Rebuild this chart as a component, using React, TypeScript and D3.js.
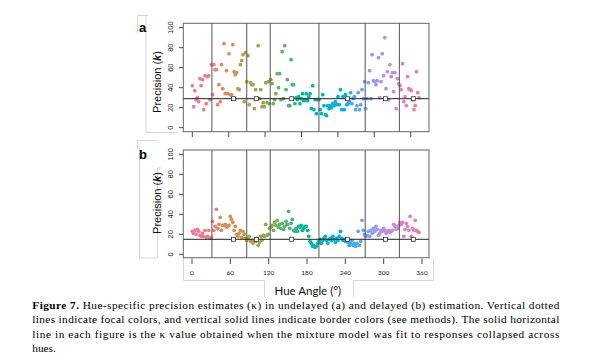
import React from 'react';
import * as d3 from 'd3';

// precision estimates per hue (2 degree steps)
const kappaA = [
  42, 21, 37, 28, 30, 26, 49, 42, 48, 18, 52, 24, 51, 52, 28, 63, 33, 63, 58, 58,
  23, 43, 26, 63, 39, 84, 34, 57, 34, 74, 33, 33, 83, 56, 53, 55, 39, 38, 63, 67,
  73, 26, 75, 46, 72, 23, 45, 43, 43, 19, 38, 29, 82, 29, 38, 21, 25, 21, 45, 25,
  46, 24, 48, 44, 24, 28, 34, 54, 40, 54, 28, 76, 29, 82, 38, 48, 22, 22, 68, 43,
  43, 24, 30, 28, 31, 24, 29, 34, 27, 28, 34, 27, 31, 34, 19, 42, 18, 28, 14, 28,
  28, 18, 14, 33, 22, 13, 12, 22, 19, 22, 20, 24, 22, 26, 23, 31, 23, 38, 18, 31,
  18, 33, 23, 24, 26, 35, 24, 29, 31, 18, 22, 35, 18, 23, 38, 29, 46, 19, 29, 45,
  57, 29, 73, 47, 46, 43, 47, 70, 30, 46, 74, 52, 90, 39, 56, 28, 63, 51, 55, 36,
  55, 19, 49, 44, 42, 38, 64, 26, 31, 22, 51, 39, 38, 37, 28, 18, 22, 56, 35, 30,
];

const kappaB = [
  23, 21, 24, 20, 25, 23, 19, 18, 21, 18, 24, 17, 18, 24, 16, 17, 33, 24, 28, 45,
  26, 30, 37, 24, 29, 29, 30, 27, 28, 29, 38, 35, 32, 24, 28, 20, 18, 21, 24, 17,
  23, 20, 16, 14, 16, 18, 13, 14, 11, 14, 13, 16, 9, 12, 18, 14, 19, 18, 30, 19,
  20, 26, 27, 29, 24, 32, 29, 34, 27, 30, 26, 31, 25, 28, 33, 30, 43, 26, 31, 35,
  24, 23, 26, 23, 28, 27, 29, 24, 26, 28, 28, 24, 18, 13, 11, 8, 9, 7, 8, 11,
  13, 15, 11, 14, 16, 18, 14, 11, 15, 16, 14, 18, 15, 12, 16, 14, 18, 23, 16, 14,
  15, 13, 14, 12, 9, 11, 14, 9, 11, 8, 11, 23, 9, 13, 34, 24, 20, 18, 19, 23,
  18, 24, 21, 26, 23, 28, 25, 19, 21, 24, 23, 26, 24, 21, 23, 24, 22, 23, 24, 30,
  28, 25, 26, 29, 32, 30, 32, 18, 25, 31, 28, 24, 38, 18, 26, 24, 34, 24, 23, 22,
];

const hueStep = 2;
const borderHues = [31, 86, 123, 200, 273, 327];
const focalHues = [65, 101, 157, 245, 305, 349];
const pooledA = 29;
const pooledB = 15;
const yTicks = [0, 20, 40, 60, 80, 100];
const xTicks = [0, 60, 120, 180, 240, 300, 360];

const captionLines = [
  'Hue-specific precision estimates (\u03BA) in undelayed (a) and delayed (b) estimation. Vertical dotted',
  'lines indicate focal colors, and vertical solid lines indicate border colors (see methods). The solid horizontal',
  'line in each figure is the \u03BA value obtained when the mixture model was fit to responses collapsed across',
  'hues.',
];

const sans = 'Liberation Sans, Arial, sans-serif';
const gill = 'Lato, sans-serif';
const serif = 'Liberation Serif, Times New Roman, serif';

const boxLeft = 183.3;
const boxRight = 429;

// point positions (hue) and axis positions differ slightly in the pasted figure
const xPts = d3.scaleLinear().domain([0, 358]).range([192.3, 419]);
const xAxisA = d3.scaleLinear().domain([0, 360]).range([192.3, 410.7]);
const xAxisB = d3.scaleLinear().domain([0, 360]).range([192, 422]);

const hueColor = (h: number) => d3.hcl(h, 47, 66).formatHex();

type PanelProps = {
  label: string;
  kappa: number[];
  pooled: number;
  top: number;
  bottom: number;
  y: d3.ScaleLinear<number, number>;
  labelY: number;
};

const Panel = ({ label, kappa, pooled, top, bottom, y, labelY }: PanelProps) => {
  return (
    <g>
      <text x={139} y={top + 8.5} fontFamily={sans} fontWeight="bold" fontSize={13}>
        {label}
      </text>
      <text
        transform={`translate(161,${labelY}) rotate(-90)`}
        textAnchor="middle"
        fontFamily={sans}
        fontSize={11}
        fill="#111"
      >
        Precision (<tspan fontStyle="italic" fontWeight="bold">k</tspan>)
      </text>
      {yTicks.map(t => (
        <g key={t}>
          <line x1={179} x2={boxLeft} y1={y(t)} y2={y(t)} stroke="#444" />
          <text
            transform={`translate(172.5,${y(t)}) rotate(-90)`}
            textAnchor="middle"
            fontFamily={sans}
            fontSize={7.5}
            fill="#222"
          >
            {t}
          </text>
        </g>
      ))}
      {kappa.map((k, i) => (
        <circle key={i} cx={xPts(i * hueStep)} cy={y(k)} r={1.9} fill={hueColor(i * hueStep)} />
      ))}
      {borderHues.map(h => (
        <line key={h} x1={xPts(h)} x2={xPts(h)} y1={top} y2={bottom} stroke="#555" strokeWidth={1} />
      ))}
      <line x1={boxLeft} x2={boxRight} y1={y(pooled)} y2={y(pooled)} stroke="#222" strokeWidth={1} />
      {focalHues.map(h => (
        <rect
          key={h}
          x={xPts(h) - 2}
          y={y(pooled) - 2}
          width={4}
          height={4}
          fill="white"
          stroke="#333"
          strokeWidth={0.8}
        />
      ))}
      <rect x={boxLeft} y={top} width={boxRight - boxLeft} height={bottom - top} fill="none" stroke="#666" />
    </g>
  );
};

const App = () => {
  const yA = d3.scaleLinear().domain([0, 100]).range([127.7, 27.7]);
  const yB = d3.scaleLinear().domain([0, 100]).range([254.3, 154.3]);
  const frame = '#d6d6d6';

  return (
    <svg
      width={600}
      height={361}
      style={{ position: 'absolute', left: 0, top: 0, background: 'white' }}
    >
      {/* faint frames of the pasted panels */}
      <path d="M137.5,33 V15.5 H148.5 M146,15.5 V132.5 H178" stroke={frame} fill="none" />
      <path d="M137.5,148 V140.5 H157 M139.5,148 V258 H157.5 V168 H161" stroke={frame} fill="none" />
      <path d="M183.5,258 V280.5 H264.5 V297 M353.5,297 V280.5 H433.5 V258" stroke={frame} fill="none" />

      <Panel label="a" kappa={kappaA} pooled={pooledA} top={23.3} bottom={131.7} y={yA} labelY={82} />
      <Panel label="b" kappa={kappaB} pooled={pooledB} top={150} bottom={257.7} y={yB} labelY={203} />

      {xTicks.map(t => (
        <line key={'a' + t} x1={xAxisA(t)} x2={xAxisA(t)} y1={132} y2={137} stroke="#444" />
      ))}
      {xTicks.map(t => (
        <g key={'b' + t}>
          <line x1={xAxisB(t)} x2={xAxisB(t)} y1={258.5} y2={264} stroke="#444" />
          <text x={xAxisB(t)} y={274.8} textAnchor="middle" fontFamily={gill} fontSize={6.5} fill="#222">
            {t}
          </text>
        </g>
      ))}
      <text x={307.8} y={294.5} textAnchor="middle" fontFamily={gill} fontSize={11.5} fill="#111">
        Hue Angle (°)
      </text>

      {captionLines.map((line, i) => {
        const last = i === captionLines.length - 1;
        return (
          <text
            key={i}
            x={32.3}
            y={308.5 + i * 14.6}
            fontFamily={serif}
            fontSize={11.3}
            fill="#000"
            textLength={last ? undefined : 527}
            lengthAdjust={last ? undefined : 'spacing'}
          >
            {i === 0 && <tspan fontWeight="bold">Figure 7. </tspan>}
            {line}
          </text>
        );
      })}
    </svg>
  );
};

export default App;
